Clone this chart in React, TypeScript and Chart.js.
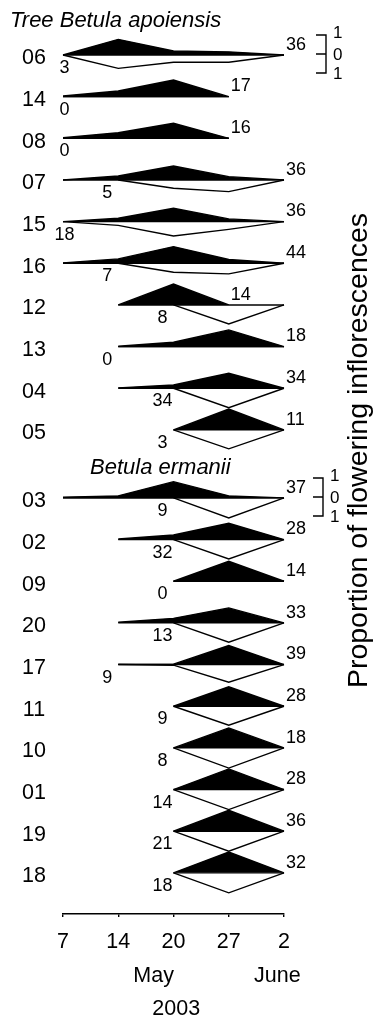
import React, { useEffect, useRef } from "react";
import { Chart, registerables } from "chart.js";

Chart.register(...registerables);

// ---- data ----
const DATE_LABELS = ["7", "14", "20", "27", "2"];
const MONTH_LABELS = ["May", "June"];
const YEAR_LABEL = "2003";
const SPECIES = ["Tree Betula apoiensis", "Betula ermanii"];
const GROUP_SIZE = 10;
const AXIS_TITLE = "Proportion of flowering inflorescences";
const SCALE_LABELS = ["1", "0", "1"];

const TREES = [
  "06", "14", "08", "07", "15", "16", "12", "13", "04", "05",
  "03", "02", "09", "20", "17", "11", "10", "01", "19", "18",
];

// proportion drawn above the baseline (black), by sampling date
const UPPER: (number | null)[][] = [
  [0, 0.75, 0.19, 0.15, 0],
  [0.03, 0.27, 0.8, 0, null],
  [0.03, 0.27, 0.72, 0, null],
  [0, 0.19, 0.67, 0.16, 0],
  [0, 0.16, 0.64, 0.13, 0],
  [0.02, 0.21, 0.8, 0.18, 0],
  [null, 0, 1.0, 0, null],
  [null, 0.02, 0.21, 0.8, 0],
  [null, 0.02, 0.16, 0.72, 0],
  [null, null, 0, 1.0, 0],
  [0.04, 0.1, 0.78, 0.1, 0],
  [null, 0.03, 0.22, 0.78, 0],
  [null, null, 0, 0.96, 0],
  [null, 0.03, 0.22, 0.72, 0],
  [null, 0.01, 0.02, 0.91, 0],
  [null, null, 0, 0.93, 0],
  [null, null, 0, 0.96, 0],
  [null, null, 0, 0.99, 0],
  [null, null, 0, 1.0, 0],
  [null, null, 0, 1.0, 0],
];

// proportion drawn below the baseline (white), by sampling date
const LOWER: (number | null)[][] = [
  [0, 0.64, 0.35, 0.35, 0],
  [0, 0, 0, 0, null],
  [0, 0, 0, 0, null],
  [null, 0, 0.4, 0.56, 0],
  [0, 0.18, 0.69, 0.37, 0],
  [null, 0, 0.43, 0.51, 0],
  [null, null, 0, 0.91, 0],
  [null, 0, 0, 0, 0],
  [null, null, 0, 0.93, 0],
  [null, null, 0, 0.91, 0],
  [null, null, 0, 0.96, 0],
  [null, null, 0, 0.93, 0],
  [null, null, 0, 0, 0],
  [null, null, 0, 0.93, 0],
  [null, 0, 0.03, 0.85, 0],
  [null, null, 0, 0.91, 0],
  [null, null, 0, 0.97, 0],
  [null, null, 0, 0.96, 0],
  [null, null, 0, 0.96, 0],
  [null, null, 0, 0.96, 0],
];

const N_UPPER = [36, 17, 16, 36, 36, 44, 14, 18, 34, 11, 37, 28, 14, 33, 39, 28, 18, 28, 36, 32];
const N_LOWER = [3, 0, 0, 5, 18, 7, 8, 0, 34, 3, 9, 32, 0, 13, 9, 9, 8, 14, 21, 18];

// ---- layout ----
const W = 374;
const H = 1017;
const ROW_STEP = 2;
const GROUP_GAP = 1.265;
const Y_MAX = 2.64;
const Y_MIN = -41.24;
const FONT = '"Liberation Sans", Arial, Helvetica, sans-serif';

function baseOf(i: number) {
  return -(i * ROW_STEP + (i >= GROUP_SIZE ? GROUP_GAP : 0));
}
function firstIdx(a: (number | null)[]) {
  return a.findIndex((v) => v !== null);
}
function lastIdx(a: (number | null)[]) {
  for (let i = a.length - 1; i >= 0; i--) if (a[i] !== null) return i;
  return -1;
}

function buildDatasets() {
  const ds: any[] = [];
  TREES.forEach((_, i) => {
    const base = baseOf(i);
    const up = UPPER[i]
      .map((v, k) => (v === null ? null : { x: k, y: base + v }))
      .filter(Boolean);
    const lo = LOWER[i]
      .map((v, k) => (v === null ? null : { x: k, y: base - v }))
      .filter(Boolean);
    const s = Math.min(firstIdx(UPPER[i]), firstIdx(LOWER[i]));
    const e = Math.max(lastIdx(UPPER[i]), lastIdx(LOWER[i]));
    const common = {
      pointRadius: 0,
      pointHoverRadius: 0,
      tension: 0,
      borderColor: "#000",
      borderWidth: 1.4,
      clip: false,
      borderJoinStyle: "miter",
    };
    ds.push({ ...common, data: up, fill: { value: base }, backgroundColor: "#000", order: 3 });
    ds.push({ ...common, data: lo, fill: { value: base }, backgroundColor: "#fff", order: 2 });
    ds.push({
      ...common,
      data: [
        { x: s, y: base },
        { x: e, y: base },
      ],
      fill: false,
      order: 1,
    });
  });
  return ds;
}

const textPlugin = {
  id: "kiteText",
  afterDraw(chart: any) {
    const ctx = chart.ctx as CanvasRenderingContext2D;
    const xs = chart.scales.x;
    const ys = chart.scales.y;
    ctx.save();
    ctx.fillStyle = "#000";
    ctx.strokeStyle = "#000";
    ctx.textBaseline = "alphabetic";

    // tree labels
    ctx.font = `21.5px ${FONT}`;
    ctx.textAlign = "center";
    TREES.forEach((t, i) => {
      const yb = ys.getPixelForValue(baseOf(i));
      ctx.fillText(t, 34, yb + 9.5);
    });

    // counts
    ctx.font = `18px ${FONT}`;
    TREES.forEach((_, i) => {
      const yb = ys.getPixelForValue(baseOf(i));
      const e = lastIdx(UPPER[i]);
      ctx.textAlign = "left";
      ctx.fillText(String(N_UPPER[i]), xs.getPixelForValue(e) + 2, yb - 5.3);
      const s = firstIdx(LOWER[i]);
      ctx.textAlign = "center";
      const lx = Math.max(xs.getPixelForValue(s) - 11, xs.getPixelForValue(0) + 1.5);
      ctx.fillText(String(N_LOWER[i]), lx, yb + 18);
    });

    // species titles
    ctx.font = `italic 22px ${FONT}`;
    ctx.textAlign = "left";
    ctx.fillText(SPECIES[0], 10, 26.7);
    ctx.fillText(SPECIES[1], 90, ys.getPixelForValue(baseOf(GROUP_SIZE)) - 24);

    // month / year
    ctx.font = `21.5px ${FONT}`;
    ctx.textAlign = "center";
    ctx.fillText(MONTH_LABELS[0], xs.getPixelForValue(1.64), 982);
    ctx.fillText(MONTH_LABELS[1], xs.getPixelForValue(3.88), 982);
    ctx.fillText(YEAR_LABEL, xs.getPixelForValue(2.05), 1015);

    // scale bars
    const bars = [
      { row: 0, x: 326 },
      { row: GROUP_SIZE, x: 323 },
    ];
    ctx.lineWidth = 1.4;
    ctx.font = `17px ${FONT}`;
    ctx.textAlign = "left";
    bars.forEach((b) => {
      const yb = ys.getPixelForValue(baseOf(b.row));
      const yt = yb - 20;
      const ym = yb - 1;
      const ybot = yb + 18;
      ctx.beginPath();
      ctx.moveTo(b.x - 10, yt);
      ctx.lineTo(b.x, yt);
      ctx.lineTo(b.x, ybot);
      ctx.lineTo(b.x - 10, ybot);
      ctx.moveTo(b.x - 10, ym);
      ctx.lineTo(b.x, ym);
      ctx.stroke();
      [yt - 2.5, ym, ybot].forEach((yy, k) => {
        ctx.fillText(SCALE_LABELS[k], b.x + 7, yy + 6);
      });
    });

    // rotated axis title
    ctx.save();
    ctx.translate(367, 450.5);
    ctx.rotate(-Math.PI / 2);
    ctx.font = `28.5px ${FONT}`;
    ctx.textAlign = "center";
    ctx.fillText(AXIS_TITLE, 0, 0);
    ctx.restore();

    ctx.restore();
  },
};

export default function App() {
  const ref = useRef<HTMLCanvasElement | null>(null);
  useEffect(() => {
    if (!ref.current) return;
    const chart = new Chart(ref.current, {
      type: "line",
      data: { datasets: buildDatasets() },
      options: {
        animation: false,
        responsive: false,
        devicePixelRatio: 1,
        layout: { padding: { left: 63, right: 90, top: 0, bottom: 0 } },
        plugins: { legend: { display: false }, tooltip: { enabled: false } },
        scales: {
          x: {
            type: "linear",
            position: "bottom",
            min: 0,
            max: 4,
            afterFit: (s: any) => {
              s.height = H - 914;
            },
            ticks: {
              stepSize: 1,
              autoSkip: false,
              maxRotation: 0,
              padding: 12,
              color: "#000",
              font: { family: FONT, size: 21.5 },
              callback: (v: any) => DATE_LABELS[Number(v)] ?? "",
            },
            grid: {
              drawOnChartArea: false,
              drawTicks: true,
              tickLength: 3,
              color: "#000",
              lineWidth: 1.4,
            },
            border: { display: true, color: "#000", width: 1.4 },
          },
          y: {
            type: "linear",
            display: false,
            min: Y_MIN,
            max: Y_MAX,
          },
        },
      },
      plugins: [textPlugin],
    } as any);
    return () => chart.destroy();
  }, []);
  return (
    <canvas
      ref={ref}
      width={W}
      height={H}
      style={{ position: "absolute", left: 0, top: 0, display: "block", width: W, height: H }}
    />
  );
}
